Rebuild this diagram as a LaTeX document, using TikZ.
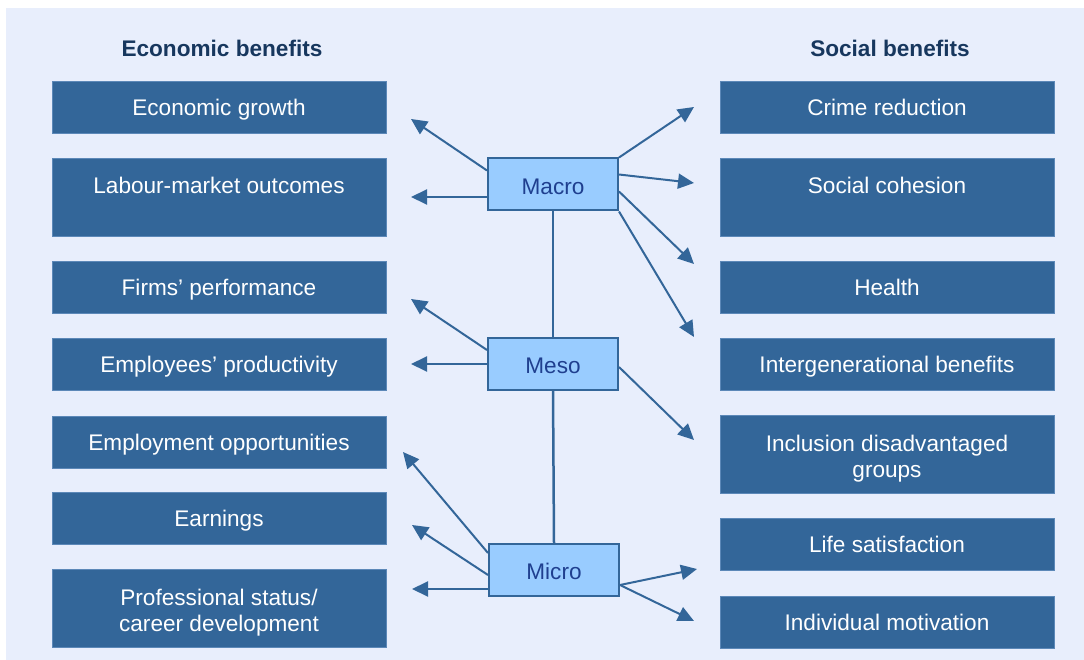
\documentclass[tikz,border=0pt]{standalone}
\usepackage{fontspec}
\setmainfont{Liberation Sans}
\usetikzlibrary{arrows.meta,calc}
\definecolor{bgc}{HTML}{E8EEFC}
\definecolor{darkc}{HTML}{336699}
\definecolor{edgec}{HTML}{5C88B8}
\definecolor{lightc}{HTML}{99CCFF}
\definecolor{headc}{HTML}{17375E}
\definecolor{ctextc}{HTML}{1F3F8F}
\newcommand{\fnt}{\fontsize{22.6}{26}\selectfont}
\newcommand{\twolines}[3]{\raisebox{#1}[0pt][0pt]{\begin{tabular}[t]{@{}c@{}}#2\\#3\end{tabular}}}
\tikzset{
  benefit/.style={fill=darkc, draw=edgec, line width=0.8pt, minimum width=334pt, minimum height=52pt, text=white, inner sep=0pt, font=\fnt},
  oneline/.style={text height=16.2pt, text depth=0pt},
  topline/.style={text height=16.2pt, text depth=23.4pt},
  tall/.style={minimum height=78pt},
  level/.style={fill=lightc, draw=darkc, line width=2pt, minimum width=130pt, minimum height=52pt, text=ctextc, inner sep=0pt, font=\fnt, text height=19.2pt, text depth=0pt},
  header/.style={text=headc, font=\fnt\bfseries},
  arr/.style={draw=darkc, line width=2pt, -{Triangle[length=16pt,width=15pt]}},
  link/.style={draw=darkc, line width=2.5pt},
}
\begin{document}
\begin{tikzpicture}[x=1pt,y=-1pt]
\useasboundingbox (0,0) rectangle (1084,660);
\fill[white] (0,0) rectangle (1084,660);
\fill[bgc] (6,8) rectangle (1084,660);

\node[header] (eh) at (222,48) {Economic benefits};
\node[header] (sh) at (890,48) {Social benefits};

% left column
\node[benefit,oneline] (e1) at (219,107) {Economic growth};
\node[benefit,tall,topline] (e2) at (219,197) {Labour-market outcomes};
\node[benefit,oneline] (e3) at (219,287) {Firms’ performance};
\node[benefit,oneline] (e4) at (219,364) {Employees’ productivity};
\node[benefit,oneline] (e5) at (219,442) {Employment opportunities};
\node[benefit,oneline] (e6) at (219,518) {Earnings};
\node[benefit,tall] (e7) at (219,608.5) {\twolines{3.4pt}{Professional status/}{career development}};

% right column
\node[benefit,oneline] (s1) at (887,107) {Crime reduction};
\node[benefit,tall,topline] (s2) at (887,197) {Social cohesion};
\node[benefit,oneline] (s3) at (887,287) {Health};
\node[benefit,oneline] (s4) at (887,364) {Intergenerational benefits};
\node[benefit,tall] (s5) at (887,454) {\twolines{2.1pt}{Inclusion disadvantaged}{groups}};
\node[benefit,oneline] (s6) at (887,544) {Life satisfaction};
\node[benefit,oneline] (s7) at (887,622) {Individual motivation};

% levels
\node[level] (macro) at (553,184.5) {Macro};
\node[level] (meso) at (553,364) {Meso};
\node[level] (micro) at (554,570) {Micro};

\draw[link] (macro.south) -- (meso.north);
\draw[link] (meso.south) -- (micro.north);

% arrow tips
\coordinate (ma1) at (411,119);
\coordinate (ma2) at (411,197);
\coordinate (ma3) at (694,107);
\coordinate (ma4) at (694,183);
\coordinate (ma5) at (694,264);
\coordinate (ma6) at (694,337);
\coordinate (me1) at (411,299);
\coordinate (me2) at (411,364);
\coordinate (me3) at (694,440);
\coordinate (mi1) at (403,452);
\coordinate (mi2) at (412,525);
\coordinate (mi3) at (412,589);
\coordinate (mi4) at (697,569);
\coordinate (mi5) at (694,621);

% macro arrows
\draw[arr] ($(macro.west)+(0,-14)$) -- (ma1);
\draw[arr] ($(macro.west)+(0,12.5)$) -- (ma2);
\draw[arr] (macro.north east) -- (ma3);
\draw[arr] ($(macro.east)+(0,-10)$) -- (ma4);
\draw[arr] ($(macro.east)+(0,7)$) -- (ma5);
\draw[arr] (macro.south east) -- (ma6);

% meso arrows
\draw[arr] ($(meso.west)+(0,-14)$) -- (me1);
\draw[arr] (meso.west) -- (me2);
\draw[arr] ($(meso.east)+(0,3)$) -- (me3);

% micro arrows
\draw[arr] ($(micro.west)+(0,-17)$) -- (mi1);
\draw[arr] ($(micro.west)+(0,5)$) -- (mi2);
\draw[arr] ($(micro.west)+(0,19)$) -- (mi3);
\draw[arr] ($(micro.east)+(0,15)$) -- (mi4);
\draw[arr] ($(micro.east)+(0,15)$) -- (mi5);
\end{tikzpicture}
\end{document}
